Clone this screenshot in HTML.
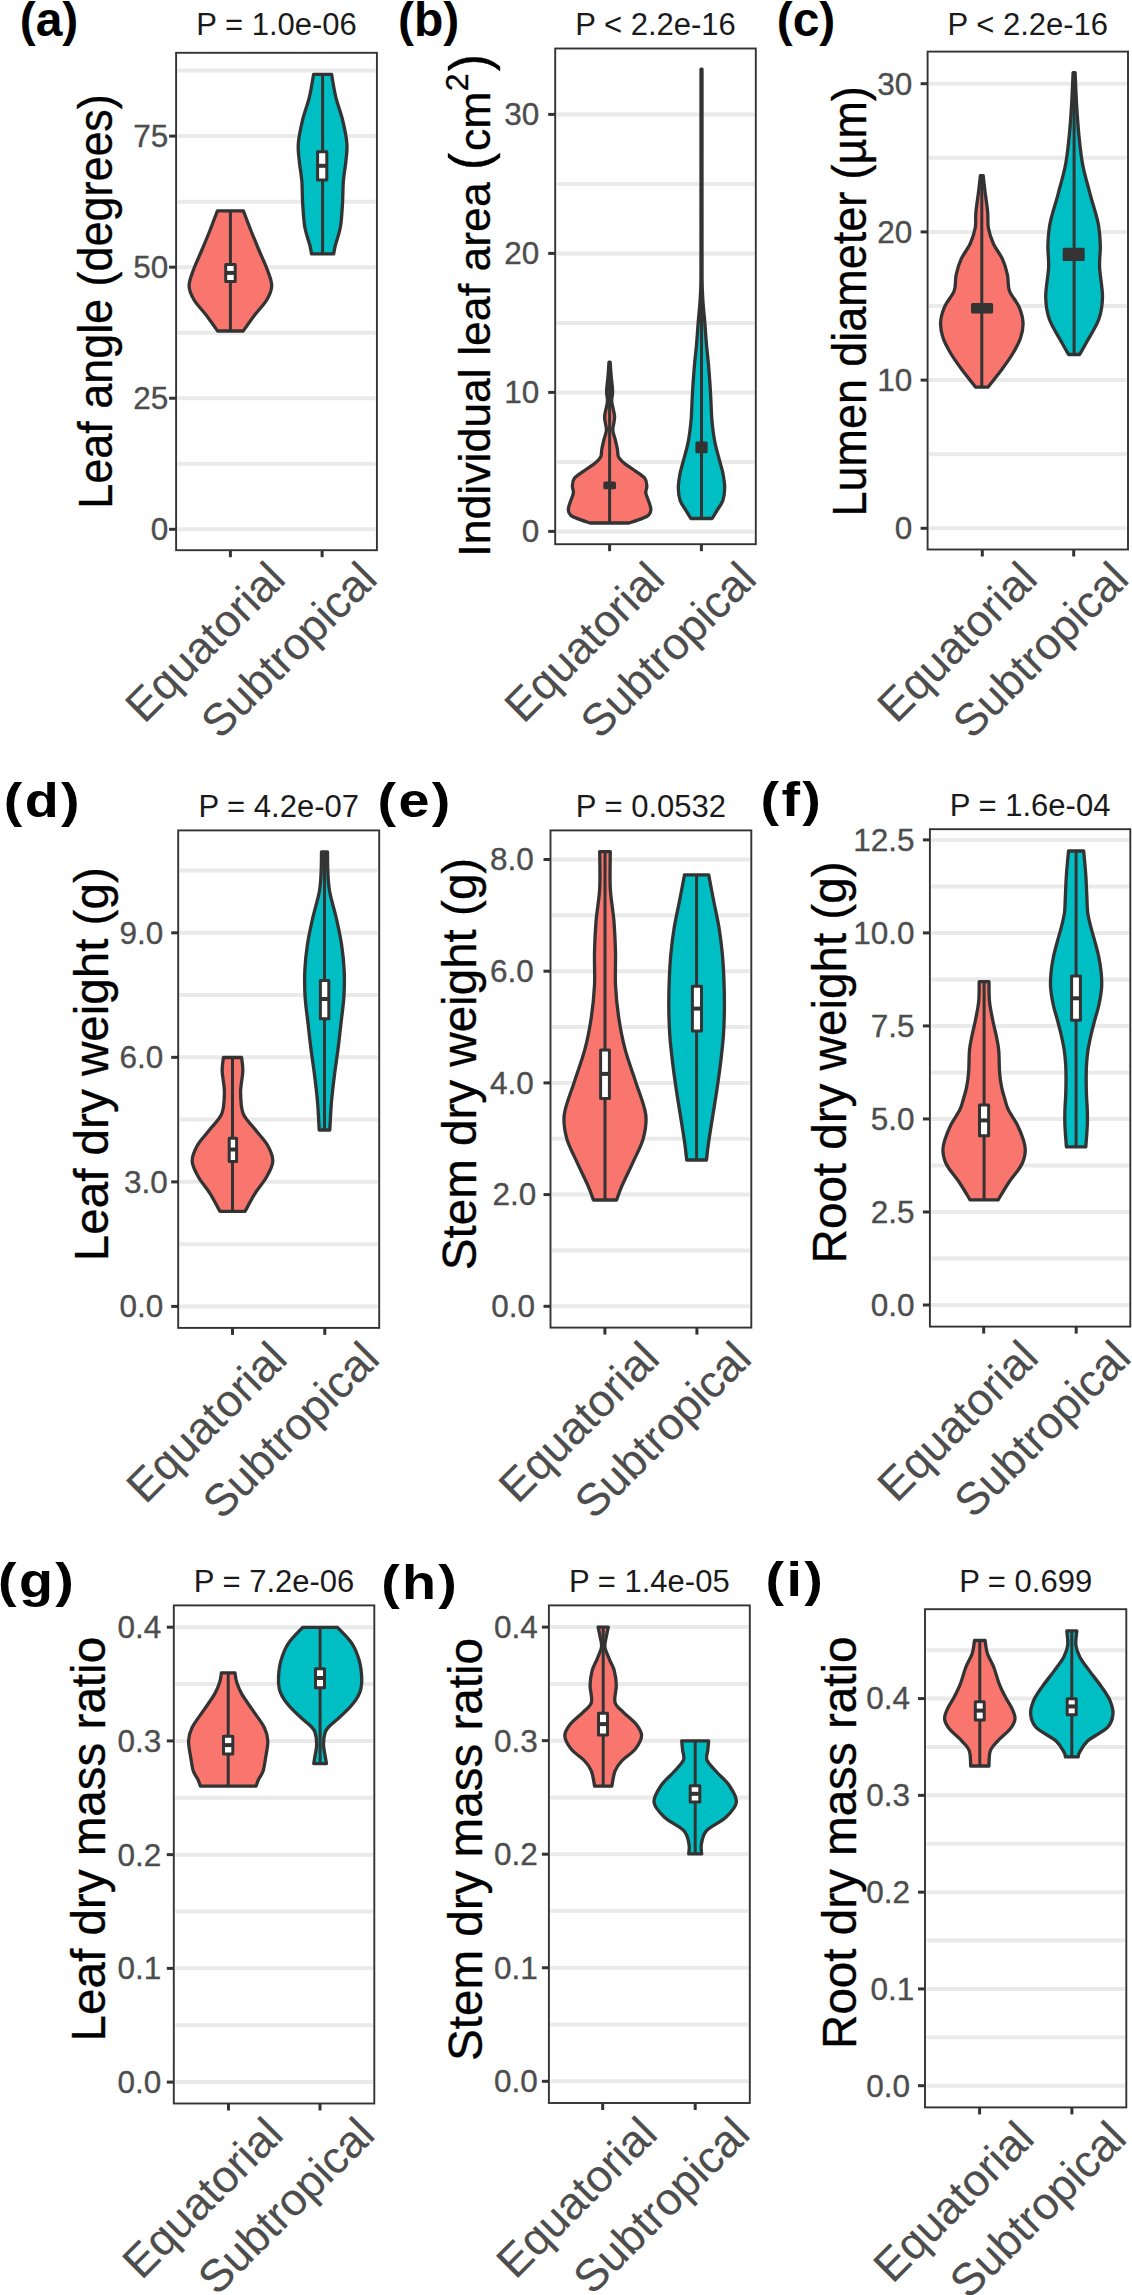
<!DOCTYPE html>
<html><head><meta charset="utf-8"><style>
html,body{margin:0;padding:0;background:#fff;overflow:hidden;}
svg{display:block;}
text{font-family:"Liberation Sans", sans-serif;paint-order:stroke;}
</style></head><body>
<svg width="1132" height="2295" viewBox="0 0 1132 2295">
<rect width="1132" height="2295" fill="#fff"/>
<line x1="177.6" y1="463.77" x2="375.4" y2="463.77" stroke="#EAEAEA" stroke-width="4.0"/>
<line x1="177.6" y1="332.7" x2="375.4" y2="332.7" stroke="#EAEAEA" stroke-width="4.0"/>
<line x1="177.6" y1="201.63" x2="375.4" y2="201.63" stroke="#EAEAEA" stroke-width="4.0"/>
<line x1="177.6" y1="70.56" x2="375.4" y2="70.56" stroke="#EAEAEA" stroke-width="4.0"/>
<line x1="177.6" y1="529.3" x2="375.4" y2="529.3" stroke="#EAEAEA" stroke-width="4.0"/>
<line x1="177.6" y1="398.23" x2="375.4" y2="398.23" stroke="#EAEAEA" stroke-width="4.0"/>
<line x1="177.6" y1="267.16" x2="375.4" y2="267.16" stroke="#EAEAEA" stroke-width="4.0"/>
<line x1="177.6" y1="136.1" x2="375.4" y2="136.1" stroke="#EAEAEA" stroke-width="4.0"/>
<path d="M217.40,210.80 L243.40,210.80 C244.62,214.00 248.12,223.47 250.70,230.00 C253.28,236.53 256.12,243.33 258.90,250.00 C261.68,256.67 265.27,264.00 267.40,270.00 C269.53,276.00 271.82,281.00 271.70,286.00 C271.58,291.00 269.53,295.17 266.70,300.00 C263.87,304.83 258.62,309.83 254.70,315.00 C250.78,320.17 245.12,328.33 243.20,331.00 L217.60,331.00 C215.68,328.33 210.02,320.17 206.10,315.00 C202.18,309.83 196.93,304.83 194.10,300.00 C191.27,295.17 189.22,291.00 189.10,286.00 C188.98,281.00 191.27,276.00 193.40,270.00 C195.53,264.00 199.12,256.67 201.90,250.00 C204.68,243.33 207.52,236.53 210.10,230.00 C212.68,223.47 216.18,214.00 217.40,210.80 Z" fill="#F8766D" stroke="#333333" stroke-width="3.3" stroke-linejoin="round"/>
<line x1="230.4" y1="210.8" x2="230.4" y2="331" stroke="#333333" stroke-width="3.0"/>
<rect x="225.7" y="264.6" width="9.5" height="17" fill="#FFFFFF" stroke="#333333" stroke-width="3.0" stroke-linejoin="round"/>
<line x1="225.7" y1="272.9" x2="235.2" y2="272.9" stroke="#333333" stroke-width="4.0"/>
<path d="M313.60,74.40 L331.60,74.40 C332.30,78.18 333.95,89.45 335.80,97.10 C337.65,104.75 340.85,112.57 342.70,120.30 C344.55,128.03 346.38,136.55 346.90,143.50 C347.42,150.45 346.38,155.82 345.80,162.00 C345.22,168.18 343.95,173.63 343.40,180.60 C342.85,187.57 343.00,196.07 342.50,203.80 C342.00,211.53 341.60,220.05 340.40,227.00 C339.20,233.95 336.42,241.02 335.30,245.50 C334.18,249.98 333.97,252.50 333.70,253.90 L311.50,253.90 C311.23,252.50 311.02,249.98 309.90,245.50 C308.78,241.02 306.00,233.95 304.80,227.00 C303.60,220.05 303.20,211.53 302.70,203.80 C302.20,196.07 302.35,187.57 301.80,180.60 C301.25,173.63 299.98,168.18 299.40,162.00 C298.82,155.82 297.78,150.45 298.30,143.50 C298.82,136.55 300.65,128.03 302.50,120.30 C304.35,112.57 307.55,104.75 309.40,97.10 C311.25,89.45 312.90,78.18 313.60,74.40 Z" fill="#00BFC4" stroke="#333333" stroke-width="3.3" stroke-linejoin="round"/>
<line x1="322.6" y1="74.4" x2="322.6" y2="253.9" stroke="#333333" stroke-width="3.0"/>
<rect x="317.6" y="151.8" width="9.2" height="28.2" fill="#FFFFFF" stroke="#333333" stroke-width="3.0" stroke-linejoin="round"/>
<line x1="317.6" y1="165.8" x2="326.8" y2="165.8" stroke="#333333" stroke-width="4.0"/>
<rect x="176.1" y="52.8" width="200.8" height="497.4" fill="none" stroke="#333333" stroke-width="1.9"/>
<line x1="169.1" y1="529.3" x2="176.1" y2="529.3" stroke="#333333" stroke-width="3.0"/>
<text x="168.2" y="540.17" font-size="31.5" fill="#4D4D4D" text-anchor="end" stroke-width="0.35" stroke="#4D4D4D">0</text>
<line x1="169.1" y1="398.23" x2="176.1" y2="398.23" stroke="#333333" stroke-width="3.0"/>
<text x="168.2" y="409.1" font-size="31.5" fill="#4D4D4D" text-anchor="end" stroke-width="0.35" stroke="#4D4D4D">25</text>
<line x1="169.1" y1="267.16" x2="176.1" y2="267.16" stroke="#333333" stroke-width="3.0"/>
<text x="168.2" y="278.03" font-size="31.5" fill="#4D4D4D" text-anchor="end" stroke-width="0.35" stroke="#4D4D4D">50</text>
<line x1="169.1" y1="136.1" x2="176.1" y2="136.1" stroke="#333333" stroke-width="3.0"/>
<text x="168.2" y="146.96" font-size="31.5" fill="#4D4D4D" text-anchor="end" stroke-width="0.35" stroke="#4D4D4D">75</text>
<line x1="230.4" y1="550.2" x2="230.4" y2="557.2" stroke="#333333" stroke-width="3.0"/>
<text transform="translate(287.6,581.2) rotate(-45)" font-size="45" fill="#4D4D4D" text-anchor="end" stroke-width="0.12" stroke="#4D4D4D">Equatorial</text>
<line x1="322.1" y1="550.2" x2="322.1" y2="557.2" stroke="#333333" stroke-width="3.0"/>
<text transform="translate(379.3,581.2) rotate(-45)" font-size="45" fill="#4D4D4D" text-anchor="end" stroke-width="0.12" stroke="#4D4D4D">Subtropical</text>
<text x="276.5" y="35.3" font-size="31" fill="#1A1A1A" text-anchor="middle">P = 1.0e-06</text>
<text x="19.7" y="35.5" font-size="48" font-weight="bold" fill="#000">(a)</text>
<text transform="translate(111.5,301.46) rotate(-90) scale(0.928,1)" font-size="48.4" text-anchor="middle" stroke-width="0.35" fill="#000" stroke="#000">Leaf angle (degrees)</text>
<line x1="556.7" y1="461.9" x2="754.3" y2="461.9" stroke="#EAEAEA" stroke-width="4.0"/>
<line x1="556.7" y1="322.9" x2="754.3" y2="322.9" stroke="#EAEAEA" stroke-width="4.0"/>
<line x1="556.7" y1="183.9" x2="754.3" y2="183.9" stroke="#EAEAEA" stroke-width="4.0"/>
<line x1="556.7" y1="531.4" x2="754.3" y2="531.4" stroke="#EAEAEA" stroke-width="4.0"/>
<line x1="556.7" y1="392.4" x2="754.3" y2="392.4" stroke="#EAEAEA" stroke-width="4.0"/>
<line x1="556.7" y1="253.4" x2="754.3" y2="253.4" stroke="#EAEAEA" stroke-width="4.0"/>
<line x1="556.7" y1="114.4" x2="754.3" y2="114.4" stroke="#EAEAEA" stroke-width="4.0"/>
<path d="M609.00,362.10 L610.20,362.10 C610.35,364.32 610.70,370.55 611.10,375.40 C611.50,380.25 612.48,386.80 612.60,391.20 C612.72,395.60 611.47,397.52 611.80,401.80 C612.13,406.08 614.43,412.25 614.60,416.90 C614.77,421.55 612.70,425.95 612.80,429.70 C612.90,433.45 614.43,436.15 615.20,439.40 C615.97,442.65 616.83,446.28 617.40,449.20 C617.97,452.12 617.35,454.48 618.60,456.90 C619.85,459.32 622.23,461.43 624.90,463.70 C627.57,465.97 631.28,468.07 634.60,470.50 C637.92,472.93 642.77,475.70 644.80,478.30 C646.83,480.90 646.63,483.67 646.80,486.10 C646.97,488.53 645.52,490.47 645.80,492.90 C646.08,495.33 647.65,497.95 648.50,500.70 C649.35,503.45 650.90,506.98 650.90,509.40 C650.90,511.82 650.25,513.58 648.50,515.20 C646.75,516.82 643.63,517.80 640.40,519.10 C637.17,520.40 630.98,522.35 629.10,523.00 L590.10,523.00 C588.22,522.35 582.03,520.40 578.80,519.10 C575.57,517.80 572.45,516.82 570.70,515.20 C568.95,513.58 568.30,511.82 568.30,509.40 C568.30,506.98 569.85,503.45 570.70,500.70 C571.55,497.95 573.12,495.33 573.40,492.90 C573.68,490.47 572.23,488.53 572.40,486.10 C572.57,483.67 572.37,480.90 574.40,478.30 C576.43,475.70 581.28,472.93 584.60,470.50 C587.92,468.07 591.63,465.97 594.30,463.70 C596.97,461.43 599.35,459.32 600.60,456.90 C601.85,454.48 601.23,452.12 601.80,449.20 C602.37,446.28 603.23,442.65 604.00,439.40 C604.77,436.15 606.30,433.45 606.40,429.70 C606.50,425.95 604.43,421.55 604.60,416.90 C604.77,412.25 607.07,406.08 607.40,401.80 C607.73,397.52 606.48,395.60 606.60,391.20 C606.72,386.80 607.70,380.25 608.10,375.40 C608.50,370.55 608.85,364.32 609.00,362.10 Z" fill="#F8766D" stroke="#333333" stroke-width="3.3" stroke-linejoin="round"/>
<line x1="609.6" y1="362.1" x2="609.6" y2="523" stroke="#333333" stroke-width="3.0"/>
<rect x="604.8" y="482.9" width="9.7" height="4.9" fill="#333333" stroke="#333333" stroke-width="3.0" stroke-linejoin="round"/>
<path d="M701.00,69.20 L702.00,69.20 C702.00,82.67 702.00,123.20 702.00,150.00 C702.00,176.80 701.99,208.33 702.00,230.00 C702.01,251.67 701.89,268.13 702.05,280.00 C702.21,291.87 702.49,294.13 702.95,301.20 C703.41,308.27 704.22,315.33 704.80,322.40 C705.38,329.47 705.78,336.53 706.40,343.60 C707.02,350.67 707.88,357.73 708.50,364.80 C709.12,371.87 709.70,380.13 710.10,386.00 C710.50,391.87 710.58,394.13 710.90,400.00 C711.22,405.87 711.33,414.13 712.00,421.20 C712.67,428.27 713.50,435.33 714.90,442.40 C716.30,449.47 719.03,458.30 720.40,463.60 C721.77,468.90 722.38,470.13 723.10,474.20 C723.82,478.27 724.75,483.58 724.70,488.00 C724.65,492.42 724.17,496.82 722.80,500.70 C721.43,504.58 718.27,508.33 716.50,511.30 C714.73,514.27 712.92,517.30 712.20,518.50 L690.80,518.50 C690.08,517.30 688.27,514.27 686.50,511.30 C684.73,508.33 681.57,504.58 680.20,500.70 C678.83,496.82 678.35,492.42 678.30,488.00 C678.25,483.58 679.18,478.27 679.90,474.20 C680.62,470.13 681.23,468.90 682.60,463.60 C683.97,458.30 686.70,449.47 688.10,442.40 C689.50,435.33 690.33,428.27 691.00,421.20 C691.67,414.13 691.78,405.87 692.10,400.00 C692.42,394.13 692.50,391.87 692.90,386.00 C693.30,380.13 693.88,371.87 694.50,364.80 C695.12,357.73 695.98,350.67 696.60,343.60 C697.22,336.53 697.62,329.47 698.20,322.40 C698.78,315.33 699.59,308.27 700.05,301.20 C700.51,294.13 700.79,291.87 700.95,280.00 C701.11,268.13 700.99,251.67 701.00,230.00 C701.01,208.33 701.00,176.80 701.00,150.00 C701.00,123.20 701.00,82.67 701.00,69.20 Z" fill="#00BFC4" stroke="#333333" stroke-width="3.3" stroke-linejoin="round"/>
<line x1="701.5" y1="69.2" x2="701.5" y2="518.5" stroke="#333333" stroke-width="3.0"/>
<rect x="696.9" y="443.1" width="9.2" height="8.7" fill="#333333" stroke="#333333" stroke-width="3.0" stroke-linejoin="round"/>
<rect x="555.2" y="48.5" width="200.6" height="495.7" fill="none" stroke="#333333" stroke-width="1.9"/>
<line x1="548.2" y1="531.4" x2="555.2" y2="531.4" stroke="#333333" stroke-width="3.0"/>
<text x="539.3" y="542.27" font-size="31.5" fill="#4D4D4D" text-anchor="end" stroke-width="0.35" stroke="#4D4D4D">0</text>
<line x1="548.2" y1="392.4" x2="555.2" y2="392.4" stroke="#333333" stroke-width="3.0"/>
<text x="539.3" y="403.27" font-size="31.5" fill="#4D4D4D" text-anchor="end" stroke-width="0.35" stroke="#4D4D4D">10</text>
<line x1="548.2" y1="253.4" x2="555.2" y2="253.4" stroke="#333333" stroke-width="3.0"/>
<text x="539.3" y="264.27" font-size="31.5" fill="#4D4D4D" text-anchor="end" stroke-width="0.35" stroke="#4D4D4D">20</text>
<line x1="548.2" y1="114.4" x2="555.2" y2="114.4" stroke="#333333" stroke-width="3.0"/>
<text x="539.3" y="125.27" font-size="31.5" fill="#4D4D4D" text-anchor="end" stroke-width="0.35" stroke="#4D4D4D">30</text>
<line x1="609.6" y1="544.2" x2="609.6" y2="551.2" stroke="#333333" stroke-width="3.0"/>
<text transform="translate(666.8,581.2) rotate(-45)" font-size="45" fill="#4D4D4D" text-anchor="end" stroke-width="0.12" stroke="#4D4D4D">Equatorial</text>
<line x1="701.4" y1="544.2" x2="701.4" y2="551.2" stroke="#333333" stroke-width="3.0"/>
<text transform="translate(758.6,581.2) rotate(-45)" font-size="45" fill="#4D4D4D" text-anchor="end" stroke-width="0.12" stroke="#4D4D4D">Subtropical</text>
<text x="655.5" y="35" font-size="31" fill="#1A1A1A" text-anchor="middle">P &lt; 2.2e-16</text>
<text x="397.9" y="35.5" font-size="48" font-weight="bold" fill="#000">(b)</text>
<text transform="translate(489.9,182.3) rotate(-90)" font-size="44.6" text-anchor="end" stroke-width="0.35" fill="#000" stroke="#000">Individual leaf area</text>
<text transform="translate(488.3,170) rotate(-90) scale(0.94,1)" font-size="55.3" stroke-width="0.35" fill="#000" stroke="#000">(</text>
<text transform="translate(489.9,151) rotate(-90)" font-size="44.6" stroke-width="0.35" fill="#000" stroke="#000">cm</text>
<text transform="translate(467.6,91.3) rotate(-90)" font-size="32.11" stroke-width="0.35" fill="#000" stroke="#000">2</text>
<text transform="translate(488.3,71.2) rotate(-90) scale(0.94,1)" font-size="55.3" stroke-width="0.35" fill="#000" stroke="#000">)</text>
<line x1="929.1" y1="454.2" x2="1126.5" y2="454.2" stroke="#EAEAEA" stroke-width="4.0"/>
<line x1="929.1" y1="306" x2="1126.5" y2="306" stroke="#EAEAEA" stroke-width="4.0"/>
<line x1="929.1" y1="157.8" x2="1126.5" y2="157.8" stroke="#EAEAEA" stroke-width="4.0"/>
<line x1="929.1" y1="528.3" x2="1126.5" y2="528.3" stroke="#EAEAEA" stroke-width="4.0"/>
<line x1="929.1" y1="380.1" x2="1126.5" y2="380.1" stroke="#EAEAEA" stroke-width="4.0"/>
<line x1="929.1" y1="231.9" x2="1126.5" y2="231.9" stroke="#EAEAEA" stroke-width="4.0"/>
<line x1="929.1" y1="83.7" x2="1126.5" y2="83.7" stroke="#EAEAEA" stroke-width="4.0"/>
<path d="M980.40,175.70 L983.20,175.70 C983.50,178.32 984.25,185.30 985.00,191.40 C985.75,197.50 987.13,206.20 987.70,212.30 C988.27,218.40 987.45,222.77 988.40,228.00 C989.35,233.23 991.03,238.47 993.40,243.70 C995.77,248.93 1000.25,254.17 1002.60,259.40 C1004.95,264.63 1006.37,269.87 1007.50,275.10 C1008.63,280.33 1007.52,285.58 1009.40,290.80 C1011.28,296.02 1016.53,301.18 1018.80,306.40 C1021.07,311.62 1022.70,316.87 1023.00,322.10 C1023.30,327.33 1022.30,332.57 1020.60,337.80 C1018.90,343.03 1015.90,348.27 1012.80,353.50 C1009.70,358.73 1006.15,363.58 1002.00,369.20 C997.85,374.82 990.25,384.20 987.90,387.20 L975.70,387.20 C973.35,384.20 965.75,374.82 961.60,369.20 C957.45,363.58 953.90,358.73 950.80,353.50 C947.70,348.27 944.70,343.03 943.00,337.80 C941.30,332.57 940.30,327.33 940.60,322.10 C940.90,316.87 942.53,311.62 944.80,306.40 C947.07,301.18 952.32,296.02 954.20,290.80 C956.08,285.58 954.97,280.33 956.10,275.10 C957.23,269.87 958.65,264.63 961.00,259.40 C963.35,254.17 967.83,248.93 970.20,243.70 C972.57,238.47 974.25,233.23 975.20,228.00 C976.15,222.77 975.33,218.40 975.90,212.30 C976.47,206.20 977.85,197.50 978.60,191.40 C979.35,185.30 980.10,178.32 980.40,175.70 Z" fill="#F8766D" stroke="#333333" stroke-width="3.3" stroke-linejoin="round"/>
<line x1="981.8" y1="175.7" x2="981.8" y2="387.2" stroke="#333333" stroke-width="3.0"/>
<rect x="972.5" y="304.5" width="19.1" height="7.5" fill="#333333" stroke="#333333" stroke-width="3.0" stroke-linejoin="round"/>
<path d="M1073.10,72.60 L1075.10,72.60 C1075.35,77.90 1075.98,94.15 1076.60,104.40 C1077.22,114.65 1077.82,124.22 1078.80,134.10 C1079.78,143.98 1080.65,153.83 1082.50,163.70 C1084.35,173.57 1087.30,183.42 1089.90,193.30 C1092.50,203.18 1096.37,214.35 1098.10,223.00 C1099.83,231.65 1100.05,237.80 1100.30,245.20 C1100.55,252.60 1099.23,258.77 1099.60,267.40 C1099.97,276.03 1102.63,288.35 1102.50,297.00 C1102.37,305.65 1101.38,311.88 1098.80,319.30 C1096.22,326.72 1090.20,335.63 1087.00,341.50 C1083.80,347.37 1080.83,352.33 1079.60,354.50 L1068.60,354.50 C1067.37,352.33 1064.40,347.37 1061.20,341.50 C1058.00,335.63 1051.98,326.72 1049.40,319.30 C1046.82,311.88 1045.83,305.65 1045.70,297.00 C1045.57,288.35 1048.23,276.03 1048.60,267.40 C1048.97,258.77 1047.65,252.60 1047.90,245.20 C1048.15,237.80 1048.37,231.65 1050.10,223.00 C1051.83,214.35 1055.70,203.18 1058.30,193.30 C1060.90,183.42 1063.85,173.57 1065.70,163.70 C1067.55,153.83 1068.42,143.98 1069.40,134.10 C1070.38,124.22 1070.98,114.65 1071.60,104.40 C1072.22,94.15 1072.85,77.90 1073.10,72.60 Z" fill="#00BFC4" stroke="#333333" stroke-width="3.3" stroke-linejoin="round"/>
<line x1="1074.1" y1="72.6" x2="1074.1" y2="354.5" stroke="#333333" stroke-width="3.0"/>
<rect x="1064.2" y="249.3" width="19" height="10.2" fill="#333333" stroke="#333333" stroke-width="3.0" stroke-linejoin="round"/>
<rect x="927.6" y="51.6" width="200.4" height="497.9" fill="none" stroke="#333333" stroke-width="1.9"/>
<line x1="920.6" y1="528.3" x2="927.6" y2="528.3" stroke="#333333" stroke-width="3.0"/>
<text x="912.4" y="539.17" font-size="31.5" fill="#4D4D4D" text-anchor="end" stroke-width="0.35" stroke="#4D4D4D">0</text>
<line x1="920.6" y1="380.1" x2="927.6" y2="380.1" stroke="#333333" stroke-width="3.0"/>
<text x="912.4" y="390.97" font-size="31.5" fill="#4D4D4D" text-anchor="end" stroke-width="0.35" stroke="#4D4D4D">10</text>
<line x1="920.6" y1="231.9" x2="927.6" y2="231.9" stroke="#333333" stroke-width="3.0"/>
<text x="912.4" y="242.77" font-size="31.5" fill="#4D4D4D" text-anchor="end" stroke-width="0.35" stroke="#4D4D4D">20</text>
<line x1="920.6" y1="83.7" x2="927.6" y2="83.7" stroke="#333333" stroke-width="3.0"/>
<text x="912.4" y="94.57" font-size="31.5" fill="#4D4D4D" text-anchor="end" stroke-width="0.35" stroke="#4D4D4D">30</text>
<line x1="982.3" y1="549.5" x2="982.3" y2="556.5" stroke="#333333" stroke-width="3.0"/>
<text transform="translate(1039.5,581.2) rotate(-45)" font-size="45" fill="#4D4D4D" text-anchor="end" stroke-width="0.12" stroke="#4D4D4D">Equatorial</text>
<line x1="1073.7" y1="549.5" x2="1073.7" y2="556.5" stroke="#333333" stroke-width="3.0"/>
<text transform="translate(1130.9,581.2) rotate(-45)" font-size="45" fill="#4D4D4D" text-anchor="end" stroke-width="0.12" stroke="#4D4D4D">Subtropical</text>
<text x="1027.8" y="35" font-size="31" fill="#1A1A1A" text-anchor="middle">P &lt; 2.2e-16</text>
<text x="776.7" y="35.5" font-size="48" font-weight="bold" fill="#000">(c)</text>
<text transform="translate(866,301.35) rotate(-90) scale(0.928,1)" font-size="48.4" text-anchor="middle" stroke-width="0.35" fill="#000" stroke="#000">Lumen diameter (µm)</text>
<line x1="179.7" y1="1244.13" x2="377.7" y2="1244.13" stroke="#EAEAEA" stroke-width="4.0"/>
<line x1="179.7" y1="1119.61" x2="377.7" y2="1119.61" stroke="#EAEAEA" stroke-width="4.0"/>
<line x1="179.7" y1="995.08" x2="377.7" y2="995.08" stroke="#EAEAEA" stroke-width="4.0"/>
<line x1="179.7" y1="870.55" x2="377.7" y2="870.55" stroke="#EAEAEA" stroke-width="4.0"/>
<line x1="179.7" y1="1306.4" x2="377.7" y2="1306.4" stroke="#EAEAEA" stroke-width="4.0"/>
<line x1="179.7" y1="1181.87" x2="377.7" y2="1181.87" stroke="#EAEAEA" stroke-width="4.0"/>
<line x1="179.7" y1="1057.34" x2="377.7" y2="1057.34" stroke="#EAEAEA" stroke-width="4.0"/>
<line x1="179.7" y1="932.81" x2="377.7" y2="932.81" stroke="#EAEAEA" stroke-width="4.0"/>
<path d="M223.40,1057.50 L241.60,1057.50 C241.80,1059.80 242.97,1065.47 242.80,1071.30 C242.63,1077.13 240.53,1085.43 240.60,1092.50 C240.67,1099.57 240.77,1107.52 243.20,1113.70 C245.63,1119.88 251.12,1124.30 255.20,1129.60 C259.28,1134.90 264.77,1140.20 267.70,1145.50 C270.63,1150.80 273.02,1156.10 272.80,1161.40 C272.58,1166.70 269.33,1172.00 266.40,1177.30 C263.47,1182.60 258.75,1187.53 255.20,1193.20 C251.65,1198.87 246.78,1208.28 245.10,1211.30 L219.90,1211.30 C218.22,1208.28 213.35,1198.87 209.80,1193.20 C206.25,1187.53 201.53,1182.60 198.60,1177.30 C195.67,1172.00 192.42,1166.70 192.20,1161.40 C191.98,1156.10 194.37,1150.80 197.30,1145.50 C200.23,1140.20 205.72,1134.90 209.80,1129.60 C213.88,1124.30 219.37,1119.88 221.80,1113.70 C224.23,1107.52 224.33,1099.57 224.40,1092.50 C224.47,1085.43 222.37,1077.13 222.20,1071.30 C222.03,1065.47 223.20,1059.80 223.40,1057.50 Z" fill="#F8766D" stroke="#333333" stroke-width="3.3" stroke-linejoin="round"/>
<line x1="232.5" y1="1057.5" x2="232.5" y2="1211.3" stroke="#333333" stroke-width="3.0"/>
<rect x="229.2" y="1138.2" width="7.4" height="23.4" fill="#FFFFFF" stroke="#333333" stroke-width="3.0" stroke-linejoin="round"/>
<line x1="229.2" y1="1149.5" x2="236.6" y2="1149.5" stroke="#333333" stroke-width="4.0"/>
<path d="M321.50,851.80 L327.50,851.80 C327.57,855.28 327.52,865.95 327.90,872.70 C328.28,879.45 328.38,884.67 329.80,892.30 C331.22,899.93 334.43,909.77 336.40,918.50 C338.37,927.23 340.30,935.98 341.60,944.70 C342.90,953.42 343.82,962.08 344.20,970.80 C344.58,979.52 344.43,988.27 343.90,997.00 C343.37,1005.73 341.98,1014.48 341.00,1023.20 C340.02,1031.92 339.10,1040.58 338.00,1049.30 C336.90,1058.02 335.48,1066.78 334.40,1075.50 C333.32,1084.22 332.27,1092.52 331.50,1101.60 C330.73,1110.68 330.08,1125.27 329.80,1130.00 L319.20,1130.00 C318.92,1125.27 318.27,1110.68 317.50,1101.60 C316.73,1092.52 315.68,1084.22 314.60,1075.50 C313.52,1066.78 312.10,1058.02 311.00,1049.30 C309.90,1040.58 308.98,1031.92 308.00,1023.20 C307.02,1014.48 305.63,1005.73 305.10,997.00 C304.57,988.27 304.42,979.52 304.80,970.80 C305.18,962.08 306.10,953.42 307.40,944.70 C308.70,935.98 310.63,927.23 312.60,918.50 C314.57,909.77 317.78,899.93 319.20,892.30 C320.62,884.67 320.72,879.45 321.10,872.70 C321.48,865.95 321.43,855.28 321.50,851.80 Z" fill="#00BFC4" stroke="#333333" stroke-width="3.3" stroke-linejoin="round"/>
<line x1="324.5" y1="851.8" x2="324.5" y2="1130" stroke="#333333" stroke-width="3.0"/>
<rect x="320.4" y="980.5" width="8.4" height="38.2" fill="#FFFFFF" stroke="#333333" stroke-width="3.0" stroke-linejoin="round"/>
<line x1="320.4" y1="999" x2="328.8" y2="999" stroke="#333333" stroke-width="4.0"/>
<rect x="178.2" y="830.4" width="201" height="497.5" fill="none" stroke="#333333" stroke-width="1.9"/>
<line x1="171.2" y1="1306.4" x2="178.2" y2="1306.4" stroke="#333333" stroke-width="3.0"/>
<text x="163.2" y="1317.27" font-size="31.5" fill="#4D4D4D" text-anchor="end" stroke-width="0.35" stroke="#4D4D4D">0.0</text>
<line x1="171.2" y1="1181.87" x2="178.2" y2="1181.87" stroke="#333333" stroke-width="3.0"/>
<text x="167.7" y="1192.74" font-size="31.5" fill="#4D4D4D" text-anchor="end" stroke-width="0.35" stroke="#4D4D4D">3.0</text>
<line x1="171.2" y1="1057.34" x2="178.2" y2="1057.34" stroke="#333333" stroke-width="3.0"/>
<text x="163.2" y="1068.21" font-size="31.5" fill="#4D4D4D" text-anchor="end" stroke-width="0.35" stroke="#4D4D4D">6.0</text>
<line x1="171.2" y1="932.81" x2="178.2" y2="932.81" stroke="#333333" stroke-width="3.0"/>
<text x="163.2" y="943.68" font-size="31.5" fill="#4D4D4D" text-anchor="end" stroke-width="0.35" stroke="#4D4D4D">9.0</text>
<line x1="232.5" y1="1327.9" x2="232.5" y2="1334.9" stroke="#333333" stroke-width="3.0"/>
<text transform="translate(289.3,1361.2) rotate(-45)" font-size="45.2" fill="#4D4D4D" text-anchor="end" stroke-width="0.12" stroke="#4D4D4D">Equatorial</text>
<line x1="324.8" y1="1327.9" x2="324.8" y2="1334.9" stroke="#333333" stroke-width="3.0"/>
<text transform="translate(381.6,1361.2) rotate(-45)" font-size="45.2" fill="#4D4D4D" text-anchor="end" stroke-width="0.12" stroke="#4D4D4D">Subtropical</text>
<text x="278.7" y="816.6" font-size="31" fill="#1A1A1A" text-anchor="middle">P = 4.2e-07</text>
<text transform="translate(3.77,816.7) scale(1.16,1)" font-size="48" font-weight="bold" fill="#000" letter-spacing="2">(d)</text>
<text transform="translate(107.8,1064.23) rotate(-90) scale(0.983,1)" font-size="48.4" text-anchor="middle" stroke-width="0.35" fill="#000" stroke="#000">Leaf dry weight (g)</text>
<line x1="552" y1="1250.45" x2="749.8" y2="1250.45" stroke="#EAEAEA" stroke-width="4.0"/>
<line x1="552" y1="1138.75" x2="749.8" y2="1138.75" stroke="#EAEAEA" stroke-width="4.0"/>
<line x1="552" y1="1027.05" x2="749.8" y2="1027.05" stroke="#EAEAEA" stroke-width="4.0"/>
<line x1="552" y1="915.35" x2="749.8" y2="915.35" stroke="#EAEAEA" stroke-width="4.0"/>
<line x1="552" y1="1306.3" x2="749.8" y2="1306.3" stroke="#EAEAEA" stroke-width="4.0"/>
<line x1="552" y1="1194.6" x2="749.8" y2="1194.6" stroke="#EAEAEA" stroke-width="4.0"/>
<line x1="552" y1="1082.9" x2="749.8" y2="1082.9" stroke="#EAEAEA" stroke-width="4.0"/>
<line x1="552" y1="971.2" x2="749.8" y2="971.2" stroke="#EAEAEA" stroke-width="4.0"/>
<line x1="552" y1="859.5" x2="749.8" y2="859.5" stroke="#EAEAEA" stroke-width="4.0"/>
<path d="M599.70,851.60 L610.30,851.60 C610.30,857.73 609.70,876.90 610.30,888.40 C610.90,899.90 613.03,909.85 613.90,920.60 C614.77,931.35 615.23,942.13 615.50,952.90 C615.77,963.67 614.97,974.45 615.50,985.20 C616.03,995.95 617.08,1006.65 618.70,1017.40 C620.32,1028.15 622.37,1038.95 625.20,1049.70 C628.03,1060.45 632.28,1071.15 635.70,1081.90 C639.12,1092.65 644.43,1104.78 645.70,1114.20 C646.97,1123.62 645.45,1130.33 643.30,1138.40 C641.15,1146.47 636.43,1154.53 632.80,1162.60 C629.17,1170.67 624.20,1180.57 621.50,1186.80 C618.80,1193.03 617.42,1197.80 616.60,1200.00 L593.40,1200.00 C592.58,1197.80 591.20,1193.03 588.50,1186.80 C585.80,1180.57 580.83,1170.67 577.20,1162.60 C573.57,1154.53 568.85,1146.47 566.70,1138.40 C564.55,1130.33 563.03,1123.62 564.30,1114.20 C565.57,1104.78 570.88,1092.65 574.30,1081.90 C577.72,1071.15 581.97,1060.45 584.80,1049.70 C587.63,1038.95 589.68,1028.15 591.30,1017.40 C592.92,1006.65 593.97,995.95 594.50,985.20 C595.03,974.45 594.23,963.67 594.50,952.90 C594.77,942.13 595.23,931.35 596.10,920.60 C596.97,909.85 599.10,899.90 599.70,888.40 C600.30,876.90 599.70,857.73 599.70,851.60 Z" fill="#F8766D" stroke="#333333" stroke-width="3.3" stroke-linejoin="round"/>
<line x1="605" y1="851.6" x2="605" y2="1200" stroke="#333333" stroke-width="3.0"/>
<rect x="600.6" y="1050.1" width="8.8" height="48.4" fill="#FFFFFF" stroke="#333333" stroke-width="3.0" stroke-linejoin="round"/>
<line x1="600.6" y1="1073.9" x2="609.4" y2="1073.9" stroke="#333333" stroke-width="4.0"/>
<path d="M684.50,874.90 L708.70,874.90 C709.52,879.17 711.88,891.72 713.60,900.50 C715.32,909.28 717.53,918.58 719.00,927.60 C720.47,936.62 721.57,945.60 722.40,954.60 C723.23,963.60 723.67,972.60 724.00,981.60 C724.33,990.60 724.50,999.58 724.40,1008.60 C724.30,1017.62 724.03,1026.68 723.40,1035.70 C722.77,1044.72 721.68,1053.70 720.60,1062.70 C719.52,1071.70 718.23,1080.68 716.90,1089.70 C715.57,1098.72 714.02,1107.78 712.60,1116.80 C711.18,1125.82 709.42,1136.60 708.40,1143.80 C707.38,1151.00 706.82,1157.30 706.50,1160.00 L686.70,1160.00 C686.38,1157.30 685.82,1151.00 684.80,1143.80 C683.78,1136.60 682.02,1125.82 680.60,1116.80 C679.18,1107.78 677.63,1098.72 676.30,1089.70 C674.97,1080.68 673.68,1071.70 672.60,1062.70 C671.52,1053.70 670.43,1044.72 669.80,1035.70 C669.17,1026.68 668.90,1017.62 668.80,1008.60 C668.70,999.58 668.87,990.60 669.20,981.60 C669.53,972.60 669.97,963.60 670.80,954.60 C671.63,945.60 672.73,936.62 674.20,927.60 C675.67,918.58 677.88,909.28 679.60,900.50 C681.32,891.72 683.68,879.17 684.50,874.90 Z" fill="#00BFC4" stroke="#333333" stroke-width="3.3" stroke-linejoin="round"/>
<line x1="696.6" y1="874.9" x2="696.6" y2="1160" stroke="#333333" stroke-width="3.0"/>
<rect x="692.4" y="986.2" width="9.1" height="44.9" fill="#FFFFFF" stroke="#333333" stroke-width="3.0" stroke-linejoin="round"/>
<line x1="692.4" y1="1008.6" x2="701.5" y2="1008.6" stroke="#333333" stroke-width="4.0"/>
<rect x="550.5" y="830.4" width="200.8" height="497.2" fill="none" stroke="#333333" stroke-width="1.9"/>
<line x1="543.5" y1="1306.3" x2="550.5" y2="1306.3" stroke="#333333" stroke-width="3.0"/>
<text x="535" y="1317.17" font-size="31.5" fill="#4D4D4D" text-anchor="end" stroke-width="0.35" stroke="#4D4D4D">0.0</text>
<line x1="543.5" y1="1194.6" x2="550.5" y2="1194.6" stroke="#333333" stroke-width="3.0"/>
<text x="536.3" y="1205.47" font-size="31.5" fill="#4D4D4D" text-anchor="end" stroke-width="0.35" stroke="#4D4D4D">2.0</text>
<line x1="543.5" y1="1082.9" x2="550.5" y2="1082.9" stroke="#333333" stroke-width="3.0"/>
<text x="533.8" y="1093.77" font-size="31.5" fill="#4D4D4D" text-anchor="end" stroke-width="0.35" stroke="#4D4D4D">4.0</text>
<line x1="543.5" y1="971.2" x2="550.5" y2="971.2" stroke="#333333" stroke-width="3.0"/>
<text x="533.8" y="982.07" font-size="31.5" fill="#4D4D4D" text-anchor="end" stroke-width="0.35" stroke="#4D4D4D">6.0</text>
<line x1="543.5" y1="859.5" x2="550.5" y2="859.5" stroke="#333333" stroke-width="3.0"/>
<text x="533.8" y="870.37" font-size="31.5" fill="#4D4D4D" text-anchor="end" stroke-width="0.35" stroke="#4D4D4D">8.0</text>
<line x1="604.9" y1="1327.6" x2="604.9" y2="1334.6" stroke="#333333" stroke-width="3.0"/>
<text transform="translate(661.7,1360.9) rotate(-45)" font-size="45.2" fill="#4D4D4D" text-anchor="end" stroke-width="0.12" stroke="#4D4D4D">Equatorial</text>
<line x1="696.9" y1="1327.6" x2="696.9" y2="1334.6" stroke="#333333" stroke-width="3.0"/>
<text transform="translate(753.7,1360.9) rotate(-45)" font-size="45.2" fill="#4D4D4D" text-anchor="end" stroke-width="0.12" stroke="#4D4D4D">Subtropical</text>
<text x="650.9" y="816.6" font-size="31" fill="#1A1A1A" text-anchor="middle">P = 0.0532</text>
<text transform="translate(377.57,817.3) scale(1.16,1)" font-size="48" font-weight="bold" fill="#000" letter-spacing="2">(e)</text>
<text transform="translate(476.3,1064.03) rotate(-90) scale(0.983,1)" font-size="48.4" text-anchor="middle" stroke-width="0.35" fill="#000" stroke="#000">Stem dry weight (g)</text>
<line x1="931.4" y1="1258.49" x2="1128.8" y2="1258.49" stroke="#EAEAEA" stroke-width="4.0"/>
<line x1="931.4" y1="1165.46" x2="1128.8" y2="1165.46" stroke="#EAEAEA" stroke-width="4.0"/>
<line x1="931.4" y1="1072.44" x2="1128.8" y2="1072.44" stroke="#EAEAEA" stroke-width="4.0"/>
<line x1="931.4" y1="979.41" x2="1128.8" y2="979.41" stroke="#EAEAEA" stroke-width="4.0"/>
<line x1="931.4" y1="886.39" x2="1128.8" y2="886.39" stroke="#EAEAEA" stroke-width="4.0"/>
<line x1="931.4" y1="1305" x2="1128.8" y2="1305" stroke="#EAEAEA" stroke-width="4.0"/>
<line x1="931.4" y1="1211.97" x2="1128.8" y2="1211.97" stroke="#EAEAEA" stroke-width="4.0"/>
<line x1="931.4" y1="1118.95" x2="1128.8" y2="1118.95" stroke="#EAEAEA" stroke-width="4.0"/>
<line x1="931.4" y1="1025.92" x2="1128.8" y2="1025.92" stroke="#EAEAEA" stroke-width="4.0"/>
<line x1="931.4" y1="932.9" x2="1128.8" y2="932.9" stroke="#EAEAEA" stroke-width="4.0"/>
<line x1="931.4" y1="839.88" x2="1128.8" y2="839.88" stroke="#EAEAEA" stroke-width="4.0"/>
<path d="M979.20,981.70 L989.00,981.70 C989.08,984.98 988.88,995.02 989.50,1001.40 C990.12,1007.78 991.60,1014.40 992.70,1020.00 C993.80,1025.60 995.10,1029.98 996.10,1035.00 C997.10,1040.02 998.12,1043.83 998.70,1050.10 C999.28,1056.37 999.10,1066.35 999.60,1072.60 C1000.10,1078.85 1000.78,1083.03 1001.70,1087.60 C1002.62,1092.17 1003.97,1096.25 1005.10,1100.00 C1006.23,1103.75 1006.43,1105.90 1008.50,1110.10 C1010.57,1114.30 1015.00,1120.18 1017.50,1125.20 C1020.00,1130.22 1022.20,1136.07 1023.50,1140.20 C1024.80,1144.33 1025.28,1146.70 1025.30,1150.00 C1025.32,1153.30 1024.55,1157.00 1023.60,1160.00 C1022.65,1163.00 1022.07,1164.25 1019.60,1168.00 C1017.13,1171.75 1012.37,1177.20 1008.80,1182.50 C1005.23,1187.80 999.97,1196.92 998.20,1199.80 L970.00,1199.80 C968.23,1196.92 962.97,1187.80 959.40,1182.50 C955.83,1177.20 951.07,1171.75 948.60,1168.00 C946.13,1164.25 945.55,1163.00 944.60,1160.00 C943.65,1157.00 942.88,1153.30 942.90,1150.00 C942.92,1146.70 943.40,1144.33 944.70,1140.20 C946.00,1136.07 948.20,1130.22 950.70,1125.20 C953.20,1120.18 957.63,1114.30 959.70,1110.10 C961.77,1105.90 961.97,1103.75 963.10,1100.00 C964.23,1096.25 965.58,1092.17 966.50,1087.60 C967.42,1083.03 968.10,1078.85 968.60,1072.60 C969.10,1066.35 968.92,1056.37 969.50,1050.10 C970.08,1043.83 971.10,1040.02 972.10,1035.00 C973.10,1029.98 974.40,1025.60 975.50,1020.00 C976.60,1014.40 978.08,1007.78 978.70,1001.40 C979.32,995.02 979.12,984.98 979.20,981.70 Z" fill="#F8766D" stroke="#333333" stroke-width="3.3" stroke-linejoin="round"/>
<line x1="984.1" y1="981.7" x2="984.1" y2="1199.8" stroke="#333333" stroke-width="3.0"/>
<rect x="979.5" y="1104.9" width="9.1" height="30.8" fill="#FFFFFF" stroke="#333333" stroke-width="3.0" stroke-linejoin="round"/>
<line x1="979.5" y1="1120.4" x2="988.6" y2="1120.4" stroke="#333333" stroke-width="4.0"/>
<path d="M1068.50,851.00 L1083.70,851.00 C1084.05,855.00 1085.27,867.23 1085.80,875.00 C1086.33,882.77 1086.58,891.33 1086.90,897.60 C1087.22,903.87 1087.02,907.60 1087.70,912.60 C1088.38,917.60 1089.75,922.60 1091.00,927.60 C1092.25,932.60 1093.88,937.60 1095.20,942.60 C1096.52,947.60 1097.90,952.58 1098.90,957.60 C1099.90,962.62 1100.75,967.68 1101.20,972.70 C1101.65,977.72 1101.98,982.32 1101.60,987.70 C1101.22,993.08 1100.03,999.62 1098.90,1005.00 C1097.77,1010.38 1096.12,1015.00 1094.80,1020.00 C1093.48,1025.00 1092.13,1029.98 1091.00,1035.00 C1089.87,1040.02 1088.75,1045.08 1088.00,1050.10 C1087.25,1055.12 1086.80,1060.10 1086.50,1065.10 C1086.20,1070.10 1086.20,1075.10 1086.20,1080.10 C1086.20,1085.10 1086.32,1090.10 1086.50,1095.10 C1086.68,1100.10 1087.17,1105.08 1087.30,1110.10 C1087.43,1115.12 1087.55,1119.07 1087.30,1125.20 C1087.05,1131.33 1086.05,1143.28 1085.80,1146.90 L1066.40,1146.90 C1066.15,1143.28 1065.15,1131.33 1064.90,1125.20 C1064.65,1119.07 1064.77,1115.12 1064.90,1110.10 C1065.03,1105.08 1065.52,1100.10 1065.70,1095.10 C1065.88,1090.10 1066.00,1085.10 1066.00,1080.10 C1066.00,1075.10 1066.00,1070.10 1065.70,1065.10 C1065.40,1060.10 1064.95,1055.12 1064.20,1050.10 C1063.45,1045.08 1062.33,1040.02 1061.20,1035.00 C1060.07,1029.98 1058.72,1025.00 1057.40,1020.00 C1056.08,1015.00 1054.43,1010.38 1053.30,1005.00 C1052.17,999.62 1050.98,993.08 1050.60,987.70 C1050.22,982.32 1050.55,977.72 1051.00,972.70 C1051.45,967.68 1052.30,962.62 1053.30,957.60 C1054.30,952.58 1055.68,947.60 1057.00,942.60 C1058.32,937.60 1059.95,932.60 1061.20,927.60 C1062.45,922.60 1063.82,917.60 1064.50,912.60 C1065.18,907.60 1064.98,903.87 1065.30,897.60 C1065.62,891.33 1065.87,882.77 1066.40,875.00 C1066.93,867.23 1068.15,855.00 1068.50,851.00 Z" fill="#00BFC4" stroke="#333333" stroke-width="3.3" stroke-linejoin="round"/>
<line x1="1076.1" y1="851" x2="1076.1" y2="1146.9" stroke="#333333" stroke-width="3.0"/>
<rect x="1071.6" y="976.1" width="8.8" height="44.2" fill="#FFFFFF" stroke="#333333" stroke-width="3.0" stroke-linejoin="round"/>
<line x1="1071.6" y1="998.3" x2="1080.4" y2="998.3" stroke="#333333" stroke-width="4.0"/>
<rect x="929.9" y="829.2" width="200.4" height="497.4" fill="none" stroke="#333333" stroke-width="1.9"/>
<line x1="922.9" y1="1305" x2="929.9" y2="1305" stroke="#333333" stroke-width="3.0"/>
<text x="914.5" y="1315.87" font-size="31.5" fill="#4D4D4D" text-anchor="end" stroke-width="0.35" stroke="#4D4D4D">0.0</text>
<line x1="922.9" y1="1211.97" x2="929.9" y2="1211.97" stroke="#333333" stroke-width="3.0"/>
<text x="914.5" y="1222.84" font-size="31.5" fill="#4D4D4D" text-anchor="end" stroke-width="0.35" stroke="#4D4D4D">2.5</text>
<line x1="922.9" y1="1118.95" x2="929.9" y2="1118.95" stroke="#333333" stroke-width="3.0"/>
<text x="914.5" y="1129.82" font-size="31.5" fill="#4D4D4D" text-anchor="end" stroke-width="0.35" stroke="#4D4D4D">5.0</text>
<line x1="922.9" y1="1025.92" x2="929.9" y2="1025.92" stroke="#333333" stroke-width="3.0"/>
<text x="914.5" y="1036.79" font-size="31.5" fill="#4D4D4D" text-anchor="end" stroke-width="0.35" stroke="#4D4D4D">7.5</text>
<line x1="922.9" y1="932.9" x2="929.9" y2="932.9" stroke="#333333" stroke-width="3.0"/>
<text x="914.5" y="943.77" font-size="31.5" fill="#4D4D4D" text-anchor="end" stroke-width="0.35" stroke="#4D4D4D">10.0</text>
<line x1="922.9" y1="839.88" x2="929.9" y2="839.88" stroke="#333333" stroke-width="3.0"/>
<text x="914.5" y="850.74" font-size="31.5" fill="#4D4D4D" text-anchor="end" stroke-width="0.35" stroke="#4D4D4D">12.5</text>
<line x1="983.7" y1="1326.6" x2="983.7" y2="1333.6" stroke="#333333" stroke-width="3.0"/>
<text transform="translate(1040.5,1359.9) rotate(-45)" font-size="45.2" fill="#4D4D4D" text-anchor="end" stroke-width="0.12" stroke="#4D4D4D">Equatorial</text>
<line x1="1076.2" y1="1326.6" x2="1076.2" y2="1333.6" stroke="#333333" stroke-width="3.0"/>
<text transform="translate(1133,1359.9) rotate(-45)" font-size="45.2" fill="#4D4D4D" text-anchor="end" stroke-width="0.12" stroke="#4D4D4D">Subtropical</text>
<text x="1030.1" y="815.8" font-size="31" fill="#1A1A1A" text-anchor="middle">P = 1.6e-04</text>
<text transform="translate(760.57,815.8) scale(1.16,1)" font-size="48" font-weight="bold" fill="#000" letter-spacing="2">(f)</text>
<text transform="translate(845.8,1062.46) rotate(-90) scale(0.983,1)" font-size="48.4" text-anchor="middle" stroke-width="0.35" fill="#000" stroke="#000">Root dry weight (g)</text>
<line x1="175.3" y1="2025.23" x2="372.8" y2="2025.23" stroke="#EAEAEA" stroke-width="4.0"/>
<line x1="175.3" y1="1911.5" x2="372.8" y2="1911.5" stroke="#EAEAEA" stroke-width="4.0"/>
<line x1="175.3" y1="1797.77" x2="372.8" y2="1797.77" stroke="#EAEAEA" stroke-width="4.0"/>
<line x1="175.3" y1="1684.05" x2="372.8" y2="1684.05" stroke="#EAEAEA" stroke-width="4.0"/>
<line x1="175.3" y1="2082.1" x2="372.8" y2="2082.1" stroke="#EAEAEA" stroke-width="4.0"/>
<line x1="175.3" y1="1968.37" x2="372.8" y2="1968.37" stroke="#EAEAEA" stroke-width="4.0"/>
<line x1="175.3" y1="1854.64" x2="372.8" y2="1854.64" stroke="#EAEAEA" stroke-width="4.0"/>
<line x1="175.3" y1="1740.91" x2="372.8" y2="1740.91" stroke="#EAEAEA" stroke-width="4.0"/>
<line x1="175.3" y1="1627.18" x2="372.8" y2="1627.18" stroke="#EAEAEA" stroke-width="4.0"/>
<path d="M221.40,1672.90 L235.00,1672.90 C235.28,1674.45 235.58,1678.70 236.70,1682.20 C237.82,1685.70 238.98,1689.15 241.70,1693.90 C244.42,1698.65 249.23,1705.10 253.00,1710.70 C256.77,1716.30 261.83,1722.47 264.30,1727.50 C266.77,1732.53 267.58,1735.87 267.80,1740.90 C268.02,1745.93 266.38,1752.67 265.60,1757.70 C264.82,1762.73 264.28,1767.47 263.10,1771.10 C261.92,1774.73 259.68,1776.98 258.50,1779.50 C257.32,1782.02 256.42,1785.08 256.00,1786.20 L200.40,1786.20 C199.98,1785.08 199.08,1782.02 197.90,1779.50 C196.72,1776.98 194.48,1774.73 193.30,1771.10 C192.12,1767.47 191.58,1762.73 190.80,1757.70 C190.02,1752.67 188.38,1745.93 188.60,1740.90 C188.82,1735.87 189.63,1732.53 192.10,1727.50 C194.57,1722.47 199.63,1716.30 203.40,1710.70 C207.17,1705.10 211.98,1698.65 214.70,1693.90 C217.42,1689.15 218.58,1685.70 219.70,1682.20 C220.82,1678.70 221.12,1674.45 221.40,1672.90 Z" fill="#F8766D" stroke="#333333" stroke-width="3.3" stroke-linejoin="round"/>
<line x1="228.2" y1="1672.9" x2="228.2" y2="1786.2" stroke="#333333" stroke-width="3.0"/>
<rect x="223.5" y="1736.2" width="9.3" height="17.8" fill="#FFFFFF" stroke="#333333" stroke-width="3.0" stroke-linejoin="round"/>
<line x1="223.5" y1="1745.1" x2="232.8" y2="1745.1" stroke="#333333" stroke-width="4.0"/>
<path d="M302.80,1627.30 L337.40,1627.30 C339.83,1630.02 348.37,1638.08 352.00,1643.60 C355.63,1649.12 357.58,1654.83 359.20,1660.40 C360.82,1665.97 361.42,1672.23 361.70,1677.00 C361.98,1681.77 361.58,1685.67 360.90,1689.00 C360.22,1692.33 358.90,1694.58 357.60,1697.00 C356.30,1699.42 354.93,1701.22 353.10,1703.50 C351.27,1705.78 349.17,1708.10 346.60,1710.70 C344.03,1713.30 340.53,1716.55 337.70,1719.10 C334.87,1721.65 331.67,1723.85 329.60,1726.00 C327.53,1728.15 326.32,1728.95 325.30,1732.00 C324.28,1735.05 323.52,1740.30 323.50,1744.30 C323.48,1748.30 324.70,1752.78 325.20,1756.00 C325.70,1759.22 326.28,1762.33 326.50,1763.60 L313.70,1763.60 C313.92,1762.33 314.50,1759.22 315.00,1756.00 C315.50,1752.78 316.72,1748.30 316.70,1744.30 C316.68,1740.30 315.92,1735.05 314.90,1732.00 C313.88,1728.95 312.67,1728.15 310.60,1726.00 C308.53,1723.85 305.33,1721.65 302.50,1719.10 C299.67,1716.55 296.17,1713.30 293.60,1710.70 C291.03,1708.10 288.93,1705.78 287.10,1703.50 C285.27,1701.22 283.90,1699.42 282.60,1697.00 C281.30,1694.58 279.98,1692.33 279.30,1689.00 C278.62,1685.67 278.22,1681.77 278.50,1677.00 C278.78,1672.23 279.38,1665.97 281.00,1660.40 C282.62,1654.83 284.57,1649.12 288.20,1643.60 C291.83,1638.08 300.37,1630.02 302.80,1627.30 Z" fill="#00BFC4" stroke="#333333" stroke-width="3.3" stroke-linejoin="round"/>
<line x1="320.1" y1="1627.3" x2="320.1" y2="1763.6" stroke="#333333" stroke-width="3.0"/>
<rect x="315.5" y="1668.8" width="9" height="18.9" fill="#FFFFFF" stroke="#333333" stroke-width="3.0" stroke-linejoin="round"/>
<line x1="315.5" y1="1678" x2="324.5" y2="1678" stroke="#333333" stroke-width="4.0"/>
<rect x="173.8" y="1605.4" width="200.5" height="498.1" fill="none" stroke="#333333" stroke-width="1.9"/>
<line x1="166.8" y1="2082.1" x2="173.8" y2="2082.1" stroke="#333333" stroke-width="3.0"/>
<text x="161.4" y="2092.97" font-size="31.5" fill="#4D4D4D" text-anchor="end" stroke-width="0.35" stroke="#4D4D4D">0.0</text>
<line x1="166.8" y1="1968.37" x2="173.8" y2="1968.37" stroke="#333333" stroke-width="3.0"/>
<text x="161.4" y="1979.24" font-size="31.5" fill="#4D4D4D" text-anchor="end" stroke-width="0.35" stroke="#4D4D4D">0.1</text>
<line x1="166.8" y1="1854.64" x2="173.8" y2="1854.64" stroke="#333333" stroke-width="3.0"/>
<text x="161.4" y="1865.51" font-size="31.5" fill="#4D4D4D" text-anchor="end" stroke-width="0.35" stroke="#4D4D4D">0.2</text>
<line x1="166.8" y1="1740.91" x2="173.8" y2="1740.91" stroke="#333333" stroke-width="3.0"/>
<text x="161.4" y="1751.78" font-size="31.5" fill="#4D4D4D" text-anchor="end" stroke-width="0.35" stroke="#4D4D4D">0.3</text>
<line x1="166.8" y1="1627.18" x2="173.8" y2="1627.18" stroke="#333333" stroke-width="3.0"/>
<text x="161.4" y="1638.05" font-size="31.5" fill="#4D4D4D" text-anchor="end" stroke-width="0.35" stroke="#4D4D4D">0.4</text>
<line x1="228.5" y1="2103.5" x2="228.5" y2="2110.5" stroke="#333333" stroke-width="3.0"/>
<text transform="translate(285.3,2136.8) rotate(-45)" font-size="45.2" fill="#4D4D4D" text-anchor="end" stroke-width="0.12" stroke="#4D4D4D">Equatorial</text>
<line x1="320" y1="2103.5" x2="320" y2="2110.5" stroke="#333333" stroke-width="3.0"/>
<text transform="translate(376.8,2136.8) rotate(-45)" font-size="45.2" fill="#4D4D4D" text-anchor="end" stroke-width="0.12" stroke="#4D4D4D">Subtropical</text>
<text x="274.05" y="1591.6" font-size="31" fill="#1A1A1A" text-anchor="middle">P = 7.2e-06</text>
<text transform="translate(-1.93,1596.7) scale(1.16,1)" font-size="48" font-weight="bold" fill="#000" letter-spacing="2">(g)</text>
<text transform="translate(104.9,1839.17) rotate(-90) scale(0.983,1)" font-size="48.4" text-anchor="middle" stroke-width="0.35" fill="#000" stroke="#000">Leaf dry mass ratio</text>
<line x1="550.4" y1="2024.53" x2="748.3" y2="2024.53" stroke="#EAEAEA" stroke-width="4.0"/>
<line x1="550.4" y1="1910.98" x2="748.3" y2="1910.98" stroke="#EAEAEA" stroke-width="4.0"/>
<line x1="550.4" y1="1797.43" x2="748.3" y2="1797.43" stroke="#EAEAEA" stroke-width="4.0"/>
<line x1="550.4" y1="1683.88" x2="748.3" y2="1683.88" stroke="#EAEAEA" stroke-width="4.0"/>
<line x1="550.4" y1="2081.3" x2="748.3" y2="2081.3" stroke="#EAEAEA" stroke-width="4.0"/>
<line x1="550.4" y1="1967.75" x2="748.3" y2="1967.75" stroke="#EAEAEA" stroke-width="4.0"/>
<line x1="550.4" y1="1854.2" x2="748.3" y2="1854.2" stroke="#EAEAEA" stroke-width="4.0"/>
<line x1="550.4" y1="1740.65" x2="748.3" y2="1740.65" stroke="#EAEAEA" stroke-width="4.0"/>
<line x1="550.4" y1="1627.1" x2="748.3" y2="1627.1" stroke="#EAEAEA" stroke-width="4.0"/>
<path d="M598.10,1627.10 L608.30,1627.10 C607.97,1628.72 606.87,1633.50 606.30,1636.80 C605.73,1640.10 604.43,1643.27 604.90,1646.90 C605.37,1650.53 607.55,1654.68 609.10,1658.60 C610.65,1662.52 613.00,1665.92 614.20,1670.40 C615.40,1674.88 616.17,1680.18 616.30,1685.50 C616.43,1690.82 613.82,1697.83 615.00,1702.30 C616.18,1706.77 619.90,1708.67 623.40,1712.30 C626.90,1715.93 632.97,1720.18 636.00,1724.10 C639.03,1728.02 641.75,1731.60 641.60,1735.80 C641.45,1740.00 638.42,1745.10 635.10,1749.30 C631.78,1753.50 625.05,1757.37 621.70,1761.00 C618.35,1764.63 616.65,1766.90 615.00,1771.10 C613.35,1775.30 612.33,1783.68 611.80,1786.20 L594.60,1786.20 C594.07,1783.68 593.05,1775.30 591.40,1771.10 C589.75,1766.90 588.05,1764.63 584.70,1761.00 C581.35,1757.37 574.62,1753.50 571.30,1749.30 C567.98,1745.10 564.95,1740.00 564.80,1735.80 C564.65,1731.60 567.37,1728.02 570.40,1724.10 C573.43,1720.18 579.50,1715.93 583.00,1712.30 C586.50,1708.67 590.22,1706.77 591.40,1702.30 C592.58,1697.83 589.97,1690.82 590.10,1685.50 C590.23,1680.18 591.00,1674.88 592.20,1670.40 C593.40,1665.92 595.75,1662.52 597.30,1658.60 C598.85,1654.68 601.03,1650.53 601.50,1646.90 C601.97,1643.27 600.67,1640.10 600.10,1636.80 C599.53,1633.50 598.43,1628.72 598.10,1627.10 Z" fill="#F8766D" stroke="#333333" stroke-width="3.3" stroke-linejoin="round"/>
<line x1="603.2" y1="1627.1" x2="603.2" y2="1786.2" stroke="#333333" stroke-width="3.0"/>
<rect x="598.5" y="1713.2" width="9" height="21.8" fill="#FFFFFF" stroke="#333333" stroke-width="3.0" stroke-linejoin="round"/>
<line x1="598.5" y1="1724.1" x2="607.5" y2="1724.1" stroke="#333333" stroke-width="4.0"/>
<path d="M681.70,1740.90 L708.70,1740.90 C708.55,1742.43 708.08,1746.88 707.80,1750.10 C707.52,1753.32 705.52,1756.55 707.00,1760.20 C708.48,1763.85 713.00,1767.80 716.70,1772.00 C720.40,1776.20 725.92,1780.37 729.20,1785.40 C732.48,1790.43 736.95,1796.88 736.40,1802.20 C735.85,1807.52 730.87,1812.55 725.90,1817.30 C720.93,1822.05 710.68,1826.23 706.60,1830.70 C702.52,1835.17 702.22,1840.23 701.40,1844.10 C700.58,1847.97 701.65,1852.27 701.70,1853.90 L688.70,1853.90 C688.75,1852.27 689.82,1847.97 689.00,1844.10 C688.18,1840.23 687.88,1835.17 683.80,1830.70 C679.72,1826.23 669.47,1822.05 664.50,1817.30 C659.53,1812.55 654.55,1807.52 654.00,1802.20 C653.45,1796.88 657.92,1790.43 661.20,1785.40 C664.48,1780.37 670.00,1776.20 673.70,1772.00 C677.40,1767.80 681.92,1763.85 683.40,1760.20 C684.88,1756.55 682.88,1753.32 682.60,1750.10 C682.32,1746.88 681.85,1742.43 681.70,1740.90 Z" fill="#00BFC4" stroke="#333333" stroke-width="3.3" stroke-linejoin="round"/>
<line x1="695.2" y1="1740.9" x2="695.2" y2="1853.9" stroke="#333333" stroke-width="3.0"/>
<rect x="690.2" y="1785.7" width="9.6" height="16.4" fill="#FFFFFF" stroke="#333333" stroke-width="3.0" stroke-linejoin="round"/>
<line x1="690.2" y1="1793.8" x2="699.8" y2="1793.8" stroke="#333333" stroke-width="4.0"/>
<rect x="548.9" y="1605.4" width="200.9" height="497.6" fill="none" stroke="#333333" stroke-width="1.9"/>
<line x1="541.9" y1="2081.3" x2="548.9" y2="2081.3" stroke="#333333" stroke-width="3.0"/>
<text x="537.8" y="2092.17" font-size="31.5" fill="#4D4D4D" text-anchor="end" stroke-width="0.35" stroke="#4D4D4D">0.0</text>
<line x1="541.9" y1="1967.75" x2="548.9" y2="1967.75" stroke="#333333" stroke-width="3.0"/>
<text x="537.8" y="1978.62" font-size="31.5" fill="#4D4D4D" text-anchor="end" stroke-width="0.35" stroke="#4D4D4D">0.1</text>
<line x1="541.9" y1="1854.2" x2="548.9" y2="1854.2" stroke="#333333" stroke-width="3.0"/>
<text x="537.8" y="1865.07" font-size="31.5" fill="#4D4D4D" text-anchor="end" stroke-width="0.35" stroke="#4D4D4D">0.2</text>
<line x1="541.9" y1="1740.65" x2="548.9" y2="1740.65" stroke="#333333" stroke-width="3.0"/>
<text x="537.8" y="1751.52" font-size="31.5" fill="#4D4D4D" text-anchor="end" stroke-width="0.35" stroke="#4D4D4D">0.3</text>
<line x1="541.9" y1="1627.1" x2="548.9" y2="1627.1" stroke="#333333" stroke-width="3.0"/>
<text x="537.8" y="1637.97" font-size="31.5" fill="#4D4D4D" text-anchor="end" stroke-width="0.35" stroke="#4D4D4D">0.4</text>
<line x1="602.7" y1="2103" x2="602.7" y2="2110" stroke="#333333" stroke-width="3.0"/>
<text transform="translate(659.5,2136.3) rotate(-45)" font-size="45.2" fill="#4D4D4D" text-anchor="end" stroke-width="0.12" stroke="#4D4D4D">Equatorial</text>
<line x1="695.2" y1="2103" x2="695.2" y2="2110" stroke="#333333" stroke-width="3.0"/>
<text transform="translate(752,2136.3) rotate(-45)" font-size="45.2" fill="#4D4D4D" text-anchor="end" stroke-width="0.12" stroke="#4D4D4D">Subtropical</text>
<text x="649.35" y="1591.6" font-size="31" fill="#1A1A1A" text-anchor="middle">P = 1.4e-05</text>
<text transform="translate(381.17,1598.7) scale(1.16,1)" font-size="48" font-weight="bold" fill="#000" letter-spacing="2">(h)</text>
<text transform="translate(481.7,1849.49) rotate(-90) scale(0.983,1)" font-size="48.4" text-anchor="middle" stroke-width="0.35" fill="#000" stroke="#000">Stem dry mass ratio</text>
<line x1="926.5" y1="2037.31" x2="1124.8" y2="2037.31" stroke="#EAEAEA" stroke-width="4.0"/>
<line x1="926.5" y1="1940.53" x2="1124.8" y2="1940.53" stroke="#EAEAEA" stroke-width="4.0"/>
<line x1="926.5" y1="1843.75" x2="1124.8" y2="1843.75" stroke="#EAEAEA" stroke-width="4.0"/>
<line x1="926.5" y1="1746.97" x2="1124.8" y2="1746.97" stroke="#EAEAEA" stroke-width="4.0"/>
<line x1="926.5" y1="1650.19" x2="1124.8" y2="1650.19" stroke="#EAEAEA" stroke-width="4.0"/>
<line x1="926.5" y1="2085.7" x2="1124.8" y2="2085.7" stroke="#EAEAEA" stroke-width="4.0"/>
<line x1="926.5" y1="1988.92" x2="1124.8" y2="1988.92" stroke="#EAEAEA" stroke-width="4.0"/>
<line x1="926.5" y1="1892.14" x2="1124.8" y2="1892.14" stroke="#EAEAEA" stroke-width="4.0"/>
<line x1="926.5" y1="1795.36" x2="1124.8" y2="1795.36" stroke="#EAEAEA" stroke-width="4.0"/>
<line x1="926.5" y1="1698.58" x2="1124.8" y2="1698.58" stroke="#EAEAEA" stroke-width="4.0"/>
<path d="M974.50,1640.50 L985.10,1640.50 C985.48,1642.68 985.97,1649.18 987.40,1653.60 C988.83,1658.02 991.73,1661.97 993.70,1667.00 C995.67,1672.03 997.23,1678.77 999.20,1683.80 C1001.17,1688.83 1003.33,1693.00 1005.50,1697.20 C1007.67,1701.40 1010.62,1705.37 1012.20,1709.00 C1013.78,1712.63 1015.35,1715.65 1015.00,1719.00 C1014.65,1722.35 1012.95,1725.47 1010.10,1729.10 C1007.25,1732.73 1001.20,1737.17 997.90,1740.80 C994.60,1744.43 991.80,1746.70 990.30,1750.90 C988.80,1755.10 989.13,1763.48 988.90,1766.00 L970.70,1766.00 C970.47,1763.48 970.80,1755.10 969.30,1750.90 C967.80,1746.70 965.00,1744.43 961.70,1740.80 C958.40,1737.17 952.35,1732.73 949.50,1729.10 C946.65,1725.47 944.95,1722.35 944.60,1719.00 C944.25,1715.65 945.82,1712.63 947.40,1709.00 C948.98,1705.37 951.93,1701.40 954.10,1697.20 C956.27,1693.00 958.43,1688.83 960.40,1683.80 C962.37,1678.77 963.93,1672.03 965.90,1667.00 C967.87,1661.97 970.77,1658.02 972.20,1653.60 C973.63,1649.18 974.12,1642.68 974.50,1640.50 Z" fill="#F8766D" stroke="#333333" stroke-width="3.3" stroke-linejoin="round"/>
<line x1="979.8" y1="1640.5" x2="979.8" y2="1766" stroke="#333333" stroke-width="3.0"/>
<rect x="975.3" y="1701.8" width="8.9" height="18.2" fill="#FFFFFF" stroke="#333333" stroke-width="3.0" stroke-linejoin="round"/>
<line x1="975.3" y1="1710.6" x2="984.2" y2="1710.6" stroke="#333333" stroke-width="4.0"/>
<path d="M1066.80,1630.90 L1076.80,1630.90 C1076.65,1633.28 1075.40,1640.87 1075.90,1645.20 C1076.40,1649.53 1077.60,1652.70 1079.80,1656.90 C1082.00,1661.10 1085.45,1665.37 1089.10,1670.40 C1092.75,1675.43 1098.22,1682.07 1101.70,1687.10 C1105.18,1692.13 1108.12,1696.12 1110.00,1700.60 C1111.88,1705.08 1113.42,1709.53 1113.00,1714.00 C1112.58,1718.47 1111.70,1722.93 1107.50,1727.40 C1103.30,1731.87 1092.48,1736.60 1087.80,1740.80 C1083.12,1745.00 1080.98,1749.93 1079.40,1752.60 C1077.82,1755.27 1078.48,1756.10 1078.30,1756.80 L1065.30,1756.80 C1065.12,1756.10 1065.78,1755.27 1064.20,1752.60 C1062.62,1749.93 1060.48,1745.00 1055.80,1740.80 C1051.12,1736.60 1040.30,1731.87 1036.10,1727.40 C1031.90,1722.93 1031.02,1718.47 1030.60,1714.00 C1030.18,1709.53 1031.72,1705.08 1033.60,1700.60 C1035.48,1696.12 1038.42,1692.13 1041.90,1687.10 C1045.38,1682.07 1050.85,1675.43 1054.50,1670.40 C1058.15,1665.37 1061.60,1661.10 1063.80,1656.90 C1066.00,1652.70 1067.20,1649.53 1067.70,1645.20 C1068.20,1640.87 1066.95,1633.28 1066.80,1630.90 Z" fill="#00BFC4" stroke="#333333" stroke-width="3.3" stroke-linejoin="round"/>
<line x1="1071.8" y1="1630.9" x2="1071.8" y2="1756.8" stroke="#333333" stroke-width="3.0"/>
<rect x="1067.2" y="1698.7" width="9" height="16.1" fill="#FFFFFF" stroke="#333333" stroke-width="3.0" stroke-linejoin="round"/>
<line x1="1067.2" y1="1706.4" x2="1076.2" y2="1706.4" stroke="#333333" stroke-width="4.0"/>
<rect x="925" y="1609.2" width="201.3" height="498.2" fill="none" stroke="#333333" stroke-width="1.9"/>
<line x1="918" y1="2085.7" x2="925" y2="2085.7" stroke="#333333" stroke-width="3.0"/>
<text x="910" y="2096.57" font-size="31.5" fill="#4D4D4D" text-anchor="end" stroke-width="0.35" stroke="#4D4D4D">0.0</text>
<line x1="918" y1="1988.92" x2="925" y2="1988.92" stroke="#333333" stroke-width="3.0"/>
<text x="914.4" y="1999.79" font-size="31.5" fill="#4D4D4D" text-anchor="end" stroke-width="0.35" stroke="#4D4D4D">0.1</text>
<line x1="918" y1="1892.14" x2="925" y2="1892.14" stroke="#333333" stroke-width="3.0"/>
<text x="910" y="1903.01" font-size="31.5" fill="#4D4D4D" text-anchor="end" stroke-width="0.35" stroke="#4D4D4D">0.2</text>
<line x1="918" y1="1795.36" x2="925" y2="1795.36" stroke="#333333" stroke-width="3.0"/>
<text x="910" y="1806.23" font-size="31.5" fill="#4D4D4D" text-anchor="end" stroke-width="0.35" stroke="#4D4D4D">0.3</text>
<line x1="918" y1="1698.58" x2="925" y2="1698.58" stroke="#333333" stroke-width="3.0"/>
<text x="910" y="1709.45" font-size="31.5" fill="#4D4D4D" text-anchor="end" stroke-width="0.35" stroke="#4D4D4D">0.4</text>
<line x1="979.6" y1="2107.4" x2="979.6" y2="2114.4" stroke="#333333" stroke-width="3.0"/>
<text transform="translate(1036.4,2140.7) rotate(-45)" font-size="45.2" fill="#4D4D4D" text-anchor="end" stroke-width="0.12" stroke="#4D4D4D">Equatorial</text>
<line x1="1071.9" y1="2107.4" x2="1071.9" y2="2114.4" stroke="#333333" stroke-width="3.0"/>
<text transform="translate(1128.7,2140.7) rotate(-45)" font-size="45.2" fill="#4D4D4D" text-anchor="end" stroke-width="0.12" stroke="#4D4D4D">Subtropical</text>
<text x="1025.65" y="1592" font-size="31" fill="#1A1A1A" text-anchor="middle">P = 0.699</text>
<text transform="translate(765.57,1595.8) scale(1.16,1)" font-size="48" font-weight="bold" fill="#000" letter-spacing="2">(i)</text>
<text transform="translate(856.3,1842.76) rotate(-90) scale(0.983,1)" font-size="48.4" text-anchor="middle" stroke-width="0.35" fill="#000" stroke="#000">Root dry mass ratio</text>
</svg>
</body></html>
